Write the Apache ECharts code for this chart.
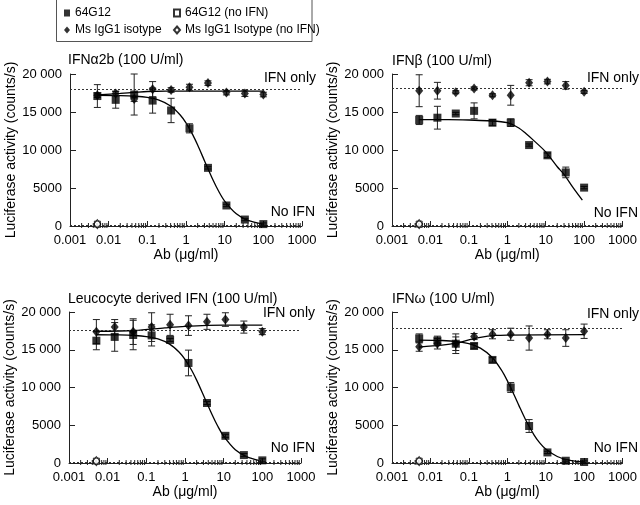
<!DOCTYPE html>
<html>
<head>
<meta charset="utf-8">
<script src="https://cdn.jsdelivr.net/npm/echarts@6/dist/echarts.min.js"></script>
<style>html,body{margin:0;padding:0;background:#fff}#c{width:640px;height:505px}</style>
</head>
<body>
<div id="c"></div>
<script>
// ---------- DATA ----------
const doses = [0.0051, 0.0152, 0.0457, 0.137, 0.412, 1.23, 3.7, 11.1, 33.3, 100];
const xTickLabels = ['0.001', '0.01', '0.1', '1', '10', '100', '1000'];
const yTickLabels = ['0', '5000', '10 000', '15 000', '20 000'];
const panelTitles = ['IFN\u03b12b (100 U/ml)', 'IFN\u03b2 (100 U/ml)', 'Leucocyte derived IFN (100 U/ml)', 'IFN\u03c9 (100 U/ml)'];

// 64G12 (squares)
const p1Sq = [17100, 16600, 17300, 16500, 15200, 12850, 7650, 2700, 850, 250];
const p1SqErr = [1500, 1100, 2700, 1650, 1600, 600, 150, 150, 150, 150];
const p2Sq = [13950, 14250, 14800, 15150, 13600, 13600, 10650, 9300, 7050, 5050];
const p2SqErr = [600, 1500, 150, 1050, 400, 500, 150, 300, 700, 150];
const p3Sq = [16200, 16700, 16950, 16900, 16300, 13250, 7950, 3600, 1050, 350];
const p3SqErr = [1200, 1900, 1950, 1400, 200, 1700, 200, 200, 200, 200];
const p4Sq = [16500, 16200, 15800, 15500, 13650, 10000, 4900, 1400, 300, 130];
const p4SqErr = [600, 600, 900, 300, 300, 650, 850, 150, 150, 150];

// Ms IgG1 isotype (diamonds)
const p1Dia = [17200, 17450, 16700, 18000, 17900, 18250, 18800, 17550, 17450, 17300];
const p1DiaErr = [300, 300, 300, 1000, 300, 400, 300, 300, 400, 300];
const p2Dia = [17800, 17800, 17600, 18100, 17200, 17200, 18850, 19000, 18500, 17650];
const p2DiaErr = [2100, 1100, 200, 200, 200, 1300, 400, 300, 500, 200];
const p3Dia = [17400, 18000, 17400, 18000, 18300, 18200, 18700, 19000, 18000, 17400];
const p3DiaErr = [1600, 1000, 1700, 1900, 1400, 1300, 1000, 900, 800, 400];
const p4Dia = [15400, 15800, 15800, 16750, 17050, 17050, 16550, 17050, 16550, 17450];
const p4DiaErr = [600, 700, 1300, 400, 600, 800, 1600, 600, 1100, 950];

// no-IFN controls (open markers, lowest dose only)
const noIfnDose = [0.0051];
const noIfnSq = [250, 250, 250, 250];
const noIfnDia = [250, 250, 250, 250];

// reference levels
const ifnOnlyLevel = [18000, 18100, 17600, 17850];
const noIfnLevel = [150, 150, 150, 150];

// fitted curves
const fitXa = [0.005, 0.02, 0.05, 0.1, 0.2, 0.4, 0.7, 1, 1.5, 2, 3, 5, 7, 10, 20, 40, 100];
const p1SqFit = [17190, 17160, 17075, 16915, 16555, 15795, 14645, 13570, 11985, 10650, 8600, 6045, 4570, 3280, 1600, 735, 250];
const p1DiaFitX = [0.005, 0.02, 0.05, 0.1, 0.3, 1, 10, 100];
const p1DiaFit = [17250, 17450, 17600, 17700, 17750, 17750, 17750, 17750];
const p2SqFitX = [0.005, 0.03, 0.1, 0.3, 1, 2, 3, 5, 10, 20, 30, 50, 90];
const p2SqFit = [14000, 14000, 13950, 13850, 13600, 12900, 12200, 11200, 9750, 7800, 6800, 5150, 3400];
const fitXb = [0.005, 0.02, 0.05, 0.1, 0.2, 0.4, 0.7, 1, 1.5, 2, 3, 5, 7, 10, 20, 40, 80];
const p3SqFit = [16990, 16960, 16890, 16750, 16430, 15750, 14710, 13725, 12250, 10980, 8985, 6425, 4905, 3555, 1755, 810, 360];
const p3DiaFitX = [0.005, 0.05, 0.3, 1, 10, 100];
const p3DiaFit = [17450, 17550, 17900, 18100, 18250, 18250];
const p4SqFit = [16285, 16225, 16080, 15805, 15210, 14000, 12330, 10910, 9040, 7635, 5725, 3700, 2670, 1845, 860, 385, 130];
const p4DiaFitX = [0.005, 0.02, 0.05, 0.1, 0.2, 0.5, 1, 100];
const p4DiaFit = [15350, 15600, 15900, 16300, 16650, 16900, 16950, 17000];

// ---------- LAYOUT ----------
const FONT = "'Liberation Sans', Arial, Helvetica, sans-serif";
const grids = [
  {left: 70, top: 74, width: 232, height: 152},
  {left: 392, top: 74, width: 232, height: 152},
  {left: 69, top: 312, width: 232, height: 151},
  {left: 392, top: 312, width: 232, height: 151}
];
const panels = [
  {sq: p1Sq, sqE: p1SqErr, dia: p1Dia, diaE: p1DiaErr, sqFit: [fitXa, p1SqFit], diaFit: [p1DiaFitX, p1DiaFit]},
  {sq: p2Sq, sqE: p2SqErr, dia: p2Dia, diaE: p2DiaErr, sqFit: [p2SqFitX, p2SqFit], diaFit: null},
  {sq: p3Sq, sqE: p3SqErr, dia: p3Dia, diaE: p3DiaErr, sqFit: [fitXb, p3SqFit], diaFit: [p3DiaFitX, p3DiaFit]},
  {sq: p4Sq, sqE: p4SqErr, dia: p4Dia, diaE: p4DiaErr, sqFit: [fitXa, p4SqFit], diaFit: [p4DiaFitX, p4DiaFit]}
];

function errRender(params, api) {
  const x = api.value(0);
  const a = api.coord([x, api.value(1)]);
  const b = api.coord([x, api.value(2)]);
  const w = 3.5;
  const st = {stroke: '#222', lineWidth: 1};
  return {type: 'group', children: [
    {type: 'line', shape: {x1: a[0], y1: a[1], x2: b[0], y2: b[1]}, style: st},
    {type: 'line', shape: {x1: a[0] - w, y1: a[1], x2: a[0] + w, y2: a[1]}, style: st},
    {type: 'line', shape: {x1: b[0] - w, y1: b[1], x2: b[0] + w, y2: b[1]}, style: st}
  ]};
}
function minorRender(params, api) {
  const kids = [];
  for (let d = -3; d < 3; d++) {
    for (let m = 2; m <= 9; m++) {
      const p = api.coord([m * Math.pow(10, d), 0]);
      kids.push({type: 'line', shape: {x1: p[0], y1: p[1] - 3, x2: p[0], y2: p[1] + 2}, style: {stroke: '#222', lineWidth: 1}});
    }
  }
  return {type: 'group', children: kids};
}

const xAxes = [], yAxes = [], series = [];
grids.forEach((g, i) => {
  xAxes.push({
    gridIndex: i, type: 'log', logBase: 10, min: 0.001, max: 1000,
    name: 'Ab (\u03bcg/ml)', nameLocation: 'middle', nameGap: 18,
    nameTextStyle: {fontFamily: FONT, fontSize: 14, color: '#000'},
    axisLine: {show: true, lineStyle: {color: '#222', width: 1}},
    axisTick: {show: true, inside: true, length: 5, lineStyle: {color: '#222'}},
    axisLabel: {fontFamily: FONT, fontSize: 13, color: '#000', margin: 8,
      formatter: (v) => xTickLabels[Math.round(Math.log10(v)) + 3]},
    splitLine: {show: false}
  });
  yAxes.push({
    gridIndex: i, type: 'value', min: 0, max: 20000, interval: 5000,
    name: 'Luciferase activity (counts/s)', nameLocation: 'middle', nameGap: 50,
    nameTextStyle: {fontFamily: FONT, fontSize: 14, color: '#000'},
    axisLine: {show: true, lineStyle: {color: '#222', width: 1}},
    axisTick: {show: true, inside: true, length: 6, lineStyle: {color: '#222'}},
    axisLabel: {fontFamily: FONT, fontSize: 13, color: '#000', margin: 8,
      formatter: (v) => yTickLabels[Math.round(v / 5000)]},
    splitLine: {show: false}
  });
  const P = panels[i];
  series.push({type: 'custom', xAxisIndex: i, yAxisIndex: i, renderItem: minorRender, data: [[1, 0]], silent: true, z: 1, clip: false});
  series.push({type: 'line', xAxisIndex: i, yAxisIndex: i, showSymbol: false, symbol: 'none', smooth: 0.3,
    lineStyle: {color: '#000', width: 1.3}, data: P.sqFit[0].map((x, k) => [x, P.sqFit[1][k]]), z: 2, silent: true});
  if (P.diaFit) {
    series.push({type: 'line', xAxisIndex: i, yAxisIndex: i, showSymbol: false, symbol: 'none', smooth: 0.3,
      lineStyle: {color: '#000', width: 1.3}, data: P.diaFit[0].map((x, k) => [x, P.diaFit[1][k]]), z: 2, silent: true});
  }
  series.push({type: 'custom', xAxisIndex: i, yAxisIndex: i, renderItem: errRender, z: 3, silent: true,
    encode: {x: 0, y: [1, 2]}, data: doses.map((x, k) => [x, P.sq[k] - P.sqE[k], P.sq[k] + P.sqE[k]])});
  series.push({type: 'custom', xAxisIndex: i, yAxisIndex: i, renderItem: errRender, z: 3, silent: true,
    encode: {x: 0, y: [1, 2]}, data: doses.map((x, k) => [x, P.dia[k] - P.diaE[k], P.dia[k] + P.diaE[k]])});
  series.push({name: '64G12', type: 'scatter', xAxisIndex: i, yAxisIndex: i, symbol: 'rect', symbolSize: 8,
    itemStyle: {color: '#000'}, z: 5, data: doses.map((x, k) => [x, P.sq[k]]),
    markLine: {symbol: 'none', silent: true, label: {show: false},
      lineStyle: {type: [2, 2], color: '#333', width: 1},
      data: [{yAxis: ifnOnlyLevel[i]}, {yAxis: noIfnLevel[i]}]}});
  series.push({name: 'Ms IgG1 isotype', type: 'scatter', xAxisIndex: i, yAxisIndex: i, symbol: 'diamond', symbolSize: [8, 10],
    itemStyle: {color: '#000'}, z: 5, data: doses.map((x, k) => [x, P.dia[k]])});
  series.push({name: '64G12 (no IFN)', type: 'scatter', xAxisIndex: i, yAxisIndex: i, symbol: 'rect', symbolSize: 6,
    itemStyle: {color: '#fff', borderColor: '#000', borderWidth: 1}, z: 6, data: noIfnDose.map((x) => [x, noIfnSq[i]])});
  series.push({name: 'Ms IgG1 Isotype (no IFN)', type: 'scatter', xAxisIndex: i, yAxisIndex: i, symbol: 'diamond', symbolSize: [7, 9],
    itemStyle: {color: 'rgba(255,255,255,0)', borderColor: '#000', borderWidth: 1}, z: 7, data: noIfnDose.map((x) => [x, noIfnDia[i]])});
});

const graphics = [
  {type: 'rect', shape: {x: 56.5, y: -1, width: 255.5, height: 42.5}, style: {fill: 'none', stroke: '#555', lineWidth: 1}, silent: true}
];
const titlePos = [[68, 60], [392, 61], [68, 299], [392, 299]];
const ifnOnlyPos = [[316, 78], [639, 78], [315, 313], [639, 314]];
const noIfnPos = [[315, 212], [638, 213], [315, 448], [638, 448]];
grids.forEach((g, i) => {
  graphics.push({type: 'text', x: titlePos[i][0], y: titlePos[i][1], style: {text: panelTitles[i], font: '14px ' + FONT, fill: '#000', textAlign: 'left', textVerticalAlign: 'middle'}});
  graphics.push({type: 'text', x: ifnOnlyPos[i][0], y: ifnOnlyPos[i][1], style: {text: 'IFN only', font: '14px ' + FONT, fill: '#000', textAlign: 'right', textVerticalAlign: 'middle'}});
  graphics.push({type: 'text', x: noIfnPos[i][0], y: noIfnPos[i][1], style: {text: 'No IFN', font: '14px ' + FONT, fill: '#000', textAlign: 'right', textVerticalAlign: 'middle'}});
});

const legendText = {fontFamily: FONT, fontSize: 12, color: '#000'};
const chart = echarts.init(document.getElementById('c'), null, {renderer: 'canvas'});
chart.setOption({
  animation: false,
  backgroundColor: '#fff',
  textStyle: {fontFamily: FONT},
  grid: grids,
  xAxis: xAxes,
  yAxis: yAxes,
  legend: [
    {left: 59, top: 2, orient: 'vertical', itemWidth: 6, itemHeight: 7, itemGap: 5, textStyle: legendText,
      data: [{name: '64G12', icon: 'rect'}, {name: 'Ms IgG1 isotype', icon: 'diamond'}], selectedMode: false},
    {left: 168, top: 2, orient: 'vertical', itemWidth: 6, itemHeight: 7, itemGap: 5, textStyle: legendText,
      data: [{name: '64G12 (no IFN)', icon: 'rect'}, {name: 'Ms IgG1 Isotype (no IFN)', icon: 'diamond'}], selectedMode: false}
  ],
  graphic: graphics,
  series: series
});
</script>
</body>
</html>
